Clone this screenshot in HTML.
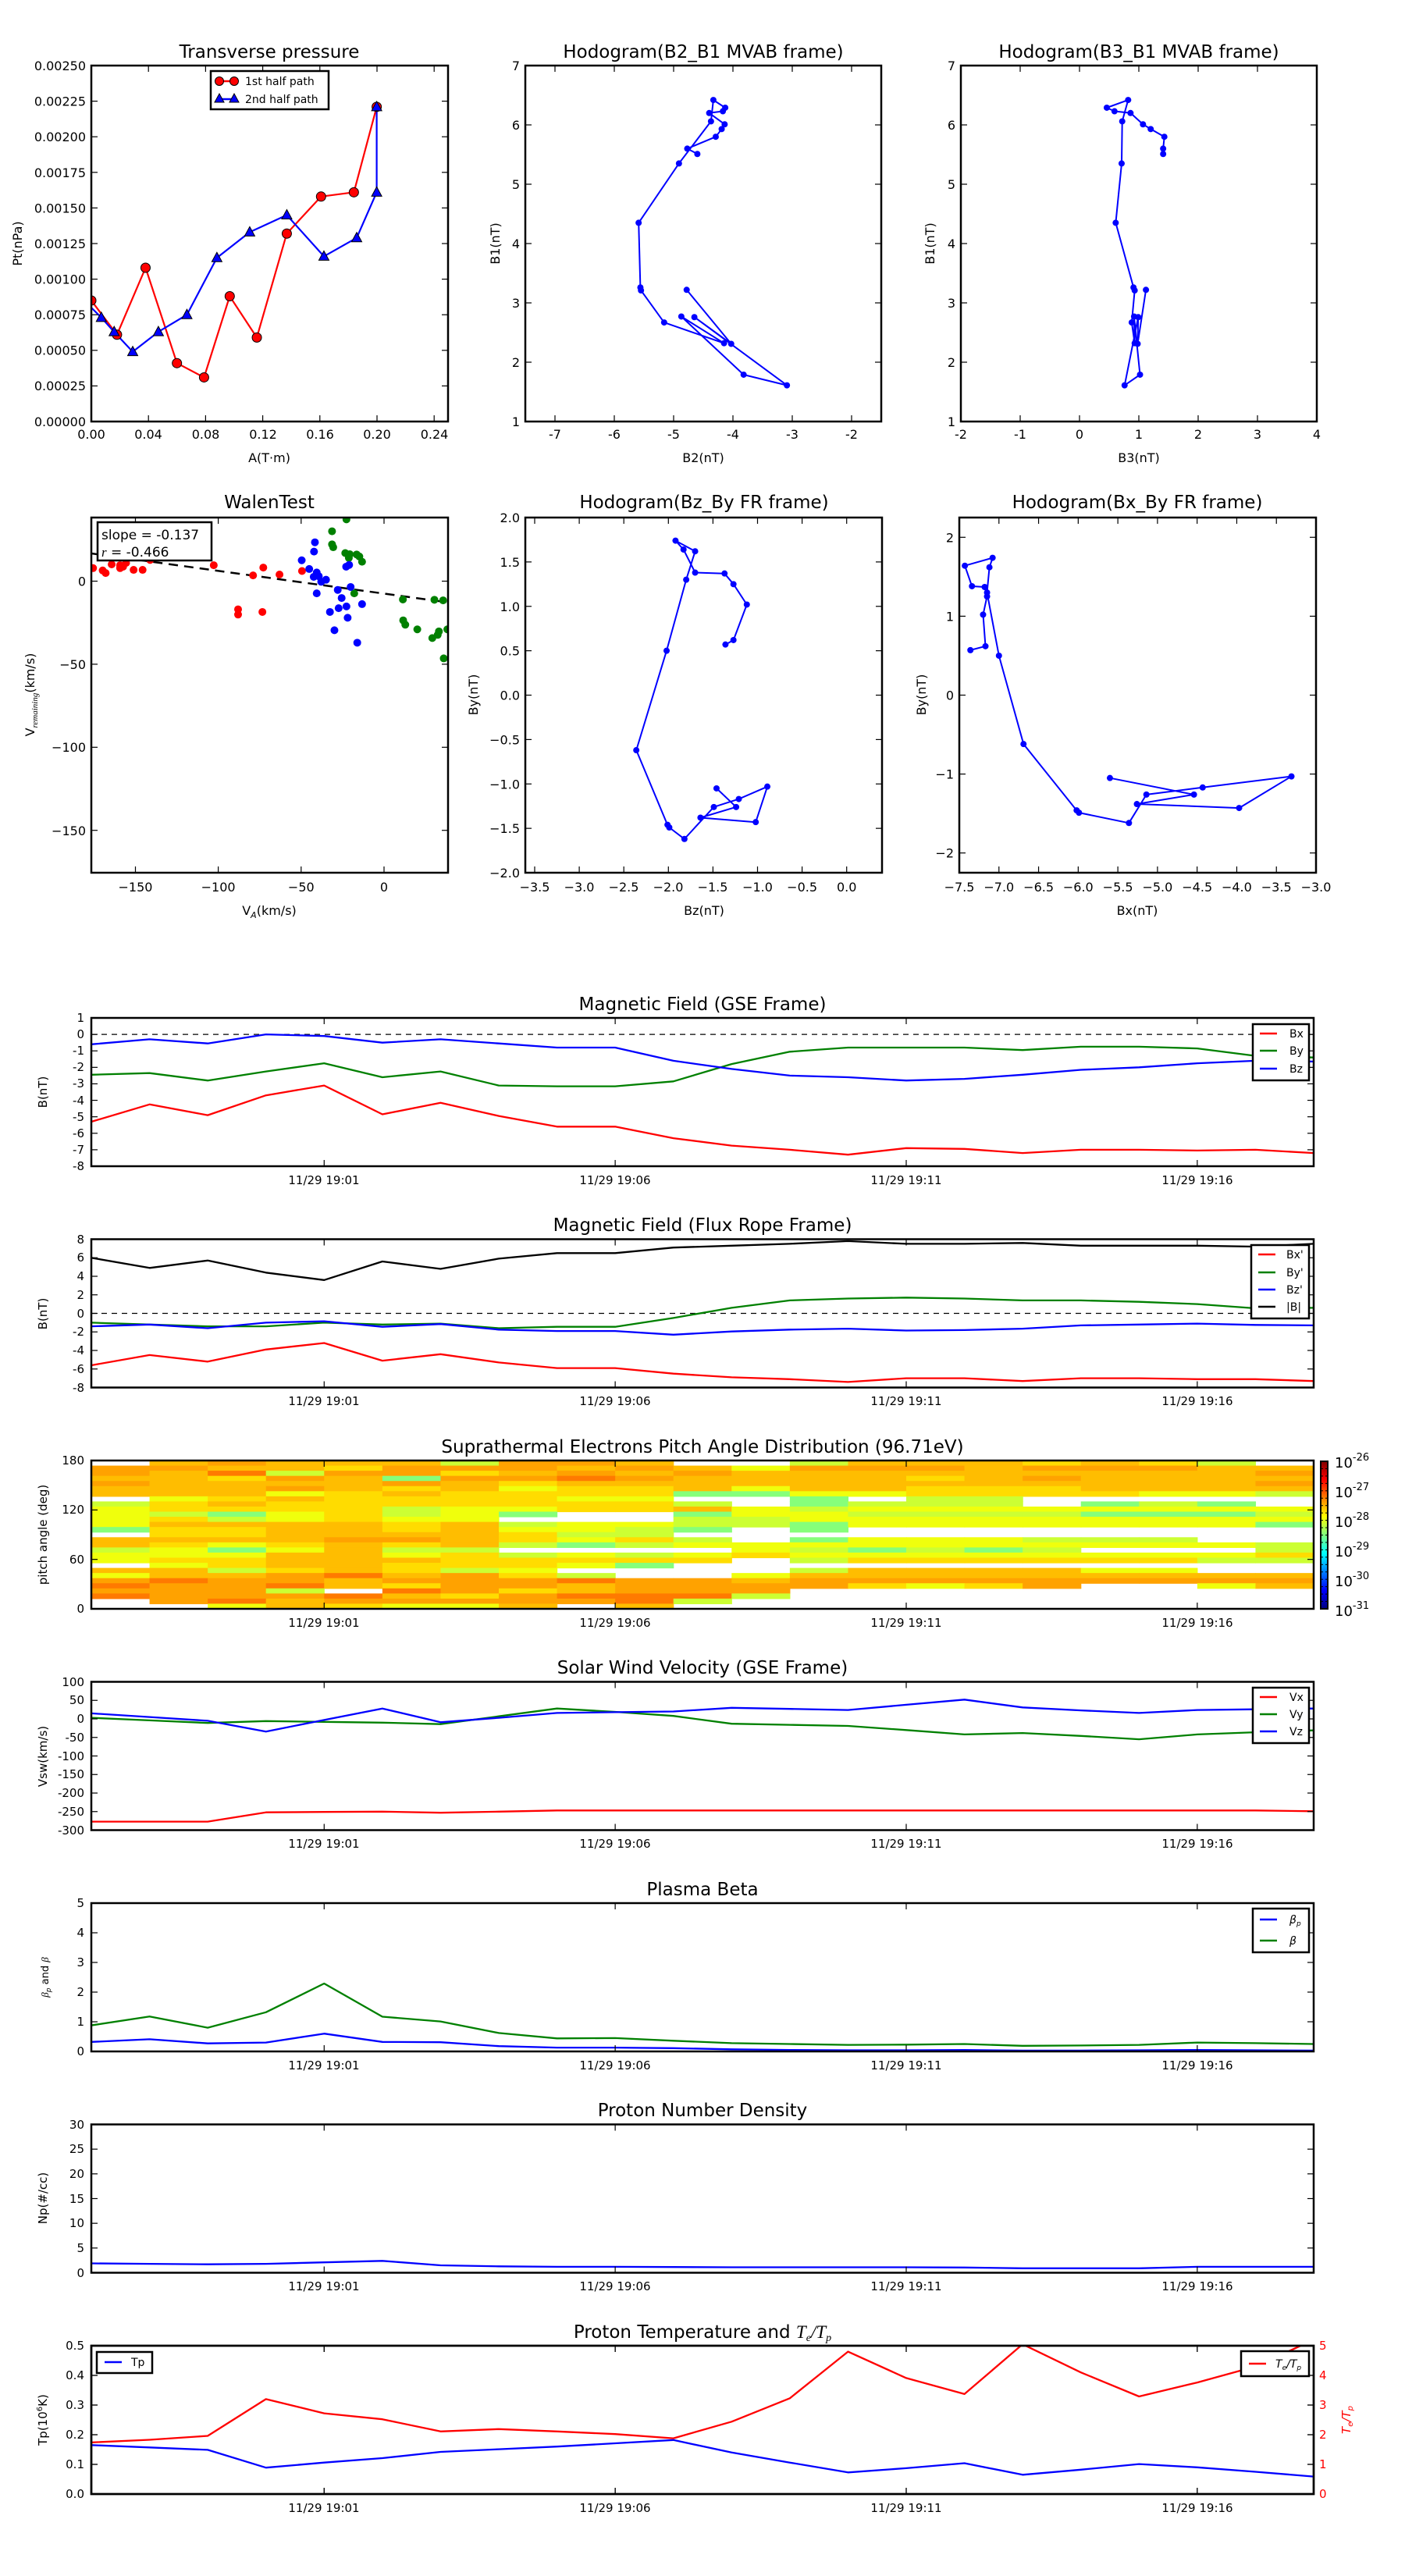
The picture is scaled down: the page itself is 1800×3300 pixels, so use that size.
<!DOCTYPE html>
<html><head><meta charset="utf-8"><style>
html,body{margin:0;padding:0;background:#fff;}
svg{display:block;}
text{font-family:"DejaVu Sans","Liberation Sans",sans-serif;fill:#000;}
.t{font-size:23px;text-anchor:middle;}
.k{font-size:16px;}
.s{font-size:15px;}
.e{text-anchor:end;}
.m{text-anchor:middle;}
.l{font-size:15px;}
</style></head><body>
<svg id="s" xmlns="http://www.w3.org/2000/svg" width="1800" height="3300" viewBox="0 0 1800 3300">
<defs>
<linearGradient id="jet" x1="0" y1="1" x2="0" y2="0">
<stop offset="0" stop-color="#00007f"/><stop offset="0.125" stop-color="#0000ff"/><stop offset="0.375" stop-color="#00ffff"/><stop offset="0.625" stop-color="#ffff00"/><stop offset="0.875" stop-color="#ff0000"/><stop offset="1" stop-color="#7f0000"/>
</linearGradient>
</defs>
<rect width="1800" height="3300" fill="#fff"/>
<g id="g"></g>

<!-- Row 1 titles -->
<text class="t" x="345" y="74">Transverse pressure</text>
<text class="t" x="901" y="74">Hodogram(B2_B1 MVAB frame)</text>
<text class="t" x="1459" y="74">Hodogram(B3_B1 MVAB frame)</text>
<!-- Transverse ticks -->
<g class="k">
<text x="117" y="562" class="m">0.00</text><text x="190" y="562" class="m">0.04</text><text x="263.5" y="562" class="m">0.08</text><text x="337" y="562" class="m">0.12</text><text x="410" y="562" class="m">0.16</text><text x="483" y="562" class="m">0.20</text><text x="556.5" y="562" class="m">0.24</text>
<text x="110" y="546" class="e">0.00000</text><text x="110" y="500" class="e">0.00025</text><text x="110" y="454.5" class="e">0.00050</text><text x="110" y="409" class="e">0.00075</text><text x="110" y="363.5" class="e">0.00100</text><text x="110" y="318" class="e">0.00125</text><text x="110" y="272.5" class="e">0.00150</text><text x="110" y="227" class="e">0.00175</text><text x="110" y="181" class="e">0.00200</text><text x="110" y="135.5" class="e">0.00225</text><text x="110" y="90" class="e">0.00250</text>
<text x="345" y="592" class="m">A(T·m)</text>
<text x="28" y="312" class="m" transform="rotate(-90 28 312)">Pt(nPa)</text>
<!-- B2 -->
<text x="711" y="562" class="m">-7</text><text x="787" y="562" class="m">-6</text><text x="863" y="562" class="m">-5</text><text x="939" y="562" class="m">-4</text><text x="1015" y="562" class="m">-3</text><text x="1091" y="562" class="m">-2</text>
<text x="666" y="546" class="e">1</text><text x="666" y="470" class="e">2</text><text x="666" y="394" class="e">3</text><text x="666" y="318" class="e">4</text><text x="666" y="242" class="e">5</text><text x="666" y="166" class="e">6</text><text x="666" y="90" class="e">7</text>
<text x="901" y="592" class="m">B2(nT)</text>
<text x="640" y="312" class="m" transform="rotate(-90 640 312)">B1(nT)</text>
<!-- B3 -->
<text x="1231" y="562" class="m">-2</text><text x="1307" y="562" class="m">-1</text><text x="1383" y="562" class="m">0</text><text x="1459" y="562" class="m">1</text><text x="1535" y="562" class="m">2</text><text x="1611" y="562" class="m">3</text><text x="1687" y="562" class="m">4</text>
<text x="1224" y="546" class="e">1</text><text x="1224" y="470" class="e">2</text><text x="1224" y="394" class="e">3</text><text x="1224" y="318" class="e">4</text><text x="1224" y="242" class="e">5</text><text x="1224" y="166" class="e">6</text><text x="1224" y="90" class="e">7</text>
<text x="1459" y="592" class="m">B3(nT)</text>
<text x="1197" y="312" class="m" transform="rotate(-90 1197 312)">B1(nT)</text>
</g>

<!-- Row 2 -->
<text class="t" x="345" y="651">WalenTest</text>
<text class="t" x="902" y="651">Hodogram(Bz_By FR frame)</text>
<text class="t" x="1457" y="651">Hodogram(Bx_By FR frame)</text>
<g class="k">
<text x="173.5" y="1142" class="m">−150</text><text x="279.6" y="1142" class="m">−100</text><text x="385.8" y="1142" class="m">−50</text><text x="492" y="1142" class="m">0</text>
<text x="110" y="750.5" class="e">0</text><text x="110" y="857" class="e">−50</text><text x="110" y="963" class="e">−100</text><text x="110" y="1070" class="e">−150</text>
<text x="345" y="1172" class="m">V<tspan font-size="11" font-style="italic" dy="4">A</tspan><tspan dy="-4">(km/s)</tspan></text>
<text x="44" y="890" class="m" transform="rotate(-90 44 890)">V<tspan font-size="11" font-style="italic" font-family="Liberation Serif, serif" dy="4">remaining</tspan><tspan dy="-4">(km/s)</tspan></text>

<text x="685" y="1142" class="m">−3.5</text><text x="742" y="1142" class="m">−3.0</text><text x="799" y="1142" class="m">−2.5</text><text x="856" y="1142" class="m">−2.0</text><text x="913" y="1142" class="m">−1.5</text><text x="970.5" y="1142" class="m">−1.0</text><text x="1027.6" y="1142" class="m">−0.5</text><text x="1084.7" y="1142" class="m">0.0</text>
<text x="666" y="669" class="e">2.0</text><text x="666" y="726" class="e">1.5</text><text x="666" y="783" class="e">1.0</text><text x="666" y="839.6" class="e">0.5</text><text x="666" y="896.5" class="e">0.0</text><text x="666" y="953.4" class="e">−0.5</text><text x="666" y="1010.3" class="e">−1.0</text><text x="666" y="1067" class="e">−1.5</text><text x="666" y="1124" class="e">−2.0</text>
<text x="902" y="1172" class="m">Bz(nT)</text>
<text x="612" y="890" class="m" transform="rotate(-90 612 890)">By(nT)</text>

<text x="1229" y="1142" class="m">−7.5</text><text x="1279.8" y="1142" class="m">−7.0</text><text x="1330.6" y="1142" class="m">−6.5</text><text x="1381.3" y="1142" class="m">−6.0</text><text x="1432.1" y="1142" class="m">−5.5</text><text x="1482.9" y="1142" class="m">−5.0</text><text x="1533.7" y="1142" class="m">−4.5</text><text x="1584.4" y="1142" class="m">−4.0</text><text x="1635.2" y="1142" class="m">−3.5</text><text x="1686" y="1142" class="m">−3.0</text>
<text x="1222" y="694.3" class="e">2</text><text x="1222" y="795.4" class="e">1</text><text x="1222" y="896.5" class="e">0</text><text x="1222" y="997.6" class="e">−1</text><text x="1222" y="1098.7" class="e">−2</text>
<text x="1457" y="1172" class="m">Bx(nT)</text>
<text x="1186" y="890" class="m" transform="rotate(-90 1186 890)">By(nT)</text>
</g>

<!-- Time series titles -->
<text class="t" x="900" y="1294">Magnetic Field (GSE Frame)</text>
<text class="t" x="900" y="1577">Magnetic Field (Flux Rope Frame)</text>
<text class="t" x="900" y="1861">Suprathermal Electrons Pitch Angle Distribution (96.71eV)</text>
<text class="t" x="900" y="2144">Solar Wind Velocity (GSE Frame)</text>
<text class="t" x="900" y="2428">Plasma Beta</text>
<text class="t" x="900" y="2711">Proton Number Density</text>
<text class="t" x="900" y="2995">Proton Temperature and <tspan font-family="Liberation Serif, serif" font-style="italic">T<tspan font-size="14" dy="4">e</tspan><tspan dy="-4">/T</tspan><tspan font-size="14" dy="4">p</tspan></tspan></text>

<g class="s">
<g class="m">
<text x="415" y="1517">11/29 19:01</text><text x="788" y="1517">11/29 19:06</text><text x="1161" y="1517">11/29 19:11</text><text x="1534" y="1517">11/29 19:16</text>
<text x="415" y="1800">11/29 19:01</text><text x="788" y="1800">11/29 19:06</text><text x="1161" y="1800">11/29 19:11</text><text x="1534" y="1800">11/29 19:16</text>
<text x="415" y="2084">11/29 19:01</text><text x="788" y="2084">11/29 19:06</text><text x="1161" y="2084">11/29 19:11</text><text x="1534" y="2084">11/29 19:16</text>
<text x="415" y="2367">11/29 19:01</text><text x="788" y="2367">11/29 19:06</text><text x="1161" y="2367">11/29 19:11</text><text x="1534" y="2367">11/29 19:16</text>
<text x="415" y="2651">11/29 19:01</text><text x="788" y="2651">11/29 19:06</text><text x="1161" y="2651">11/29 19:11</text><text x="1534" y="2651">11/29 19:16</text>
<text x="415" y="2934">11/29 19:01</text><text x="788" y="2934">11/29 19:06</text><text x="1161" y="2934">11/29 19:11</text><text x="1534" y="2934">11/29 19:16</text>
<text x="415" y="3218">11/29 19:01</text><text x="788" y="3218">11/29 19:06</text><text x="1161" y="3218">11/29 19:11</text><text x="1534" y="3218">11/29 19:16</text>
</g>
<g class="e">
<text x="108" y="1309">1</text><text x="108" y="1330">0</text><text x="108" y="1351">-1</text><text x="108" y="1372">-2</text><text x="108" y="1393">-3</text><text x="108" y="1415">-4</text><text x="108" y="1436">-5</text><text x="108" y="1457">-6</text><text x="108" y="1478">-7</text><text x="108" y="1499">-8</text>
<text x="108" y="1593">8</text><text x="108" y="1616">6</text><text x="108" y="1640">4</text><text x="108" y="1664">2</text><text x="108" y="1688">0</text><text x="108" y="1711">-2</text><text x="108" y="1735">-4</text><text x="108" y="1759">-6</text><text x="108" y="1783">-8</text>
<text x="108" y="1876">180</text><text x="108" y="1939">120</text><text x="108" y="2003">60</text><text x="108" y="2066">0</text>
<text x="108" y="2160">100</text><text x="108" y="2183">50</text><text x="108" y="2207">0</text><text x="108" y="2231">-50</text><text x="108" y="2255">-100</text><text x="108" y="2278">-150</text><text x="108" y="2302">-200</text><text x="108" y="2326">-250</text><text x="108" y="2350">-300</text>
<text x="108" y="2443">5</text><text x="108" y="2481">4</text><text x="108" y="2519">3</text><text x="108" y="2557">2</text><text x="108" y="2595">1</text><text x="108" y="2633">0</text>
<text x="108" y="2727">30</text><text x="108" y="2758">25</text><text x="108" y="2790">20</text><text x="108" y="2822">15</text><text x="108" y="2853">10</text><text x="108" y="2885">5</text><text x="108" y="2917">0</text>
<text x="108" y="3010">0.5</text><text x="108" y="3048">0.4</text><text x="108" y="3086">0.3</text><text x="108" y="3124">0.2</text><text x="108" y="3162">0.1</text><text x="108" y="3200">0.0</text>
</g>
<g>
<text x="1690" y="3010" style="fill:#f00">5</text><text x="1690" y="3048" style="fill:#f00">4</text><text x="1690" y="3086" style="fill:#f00">3</text><text x="1690" y="3124" style="fill:#f00">2</text><text x="1690" y="3162" style="fill:#f00">1</text><text x="1690" y="3200" style="fill:#f00">0</text>
</g>
<g class="m">
<text x="60" y="1399" transform="rotate(-90 60 1399)">B(nT)</text>
<text x="60" y="1683" transform="rotate(-90 60 1683)">B(nT)</text>
<text x="60" y="1966" transform="rotate(-90 60 1966)">pitch angle (deg)</text>
<text x="60" y="2250" transform="rotate(-90 60 2250)">Vsw(km/s)</text>
<text x="62" y="2533" font-size="13" transform="rotate(-90 62 2533)"><tspan font-style="italic" font-family="Liberation Serif, serif">β</tspan><tspan font-size="9" dy="3" font-style="italic">p</tspan><tspan dy="-3"> and </tspan><tspan font-style="italic" font-family="Liberation Serif, serif">β</tspan></text>
<text x="60" y="2816" transform="rotate(-90 60 2816)">Np(#/cc)</text>
<text x="60" y="3100" transform="rotate(-90 60 3100)">Tp(10<tspan font-size="10" dy="-6">6</tspan><tspan dy="6">K)</tspan></text>
<text x="1730" y="3100" transform="rotate(-90 1730 3100)" style="fill:#f00" font-family="Liberation Serif, serif" font-style="italic">T<tspan font-size="10" dy="3">e</tspan><tspan dy="-3">/T</tspan><tspan font-size="10" dy="3">p</tspan></text>
</g>
</g>

<g font-size="18">
<text x="1710" y="1880">10<tspan font-size="13" dy="-9">-26</tspan></text>
<text x="1710" y="1918">10<tspan font-size="13" dy="-9">-27</tspan></text>
<text x="1710" y="1956">10<tspan font-size="13" dy="-9">-28</tspan></text>
<text x="1710" y="1994">10<tspan font-size="13" dy="-9">-29</tspan></text>
<text x="1710" y="2032">10<tspan font-size="13" dy="-9">-30</tspan></text>
<text x="1710" y="2070">10<tspan font-size="13" dy="-9">-31</tspan></text>
</g>

<g stroke="#000" stroke-width="2.5" fill="#fff">
<rect x="270" y="91" width="151" height="49"/>
<rect x="125" y="669" width="146" height="49"/>
<rect x="1605" y="1312" width="72" height="72"/>
<rect x="1603" y="1595" width="74" height="94"/>
<rect x="1605" y="2162" width="72" height="71"/>
<rect x="1605" y="2445" width="72" height="56"/>
<rect x="124" y="3013" width="71" height="27"/>
<rect x="1590" y="3012" width="87" height="32"/>
</g>
<g stroke-width="2.5">
<line x1="278" y1="104" x2="300" y2="104" stroke="#f00"/>
<circle cx="281" cy="104" r="5.5" fill="#f00" stroke="#000" stroke-width="1"/><circle cx="300" cy="104" r="5.5" fill="#f00" stroke="#000" stroke-width="1"/>
<line x1="278" y1="127" x2="300" y2="127" stroke="#00f"/>
<polygon points="281,120 287,131 275,131" fill="#00f" stroke="#000" stroke-width="1"/><polygon points="300,120 306,131 294,131" fill="#00f" stroke="#000" stroke-width="1"/>
<line x1="1614" y1="1324" x2="1636" y2="1324" stroke="#f00"/><line x1="1614" y1="1346" x2="1636" y2="1346" stroke="#008000"/><line x1="1614" y1="1369" x2="1636" y2="1369" stroke="#00f"/>
<line x1="1612" y1="1607" x2="1634" y2="1607" stroke="#f00"/><line x1="1612" y1="1630" x2="1634" y2="1630" stroke="#008000"/><line x1="1612" y1="1652" x2="1634" y2="1652" stroke="#00f"/><line x1="1612" y1="1674" x2="1634" y2="1674" stroke="#000"/>
<line x1="1614" y1="2174" x2="1636" y2="2174" stroke="#f00"/><line x1="1614" y1="2196" x2="1636" y2="2196" stroke="#008000"/><line x1="1614" y1="2218" x2="1636" y2="2218" stroke="#00f"/>
<line x1="1614" y1="2459" x2="1636" y2="2459" stroke="#00f"/><line x1="1614" y1="2486" x2="1636" y2="2486" stroke="#008000"/>
<line x1="134" y1="3026" x2="156" y2="3026" stroke="#00f"/>
<line x1="1600" y1="3028" x2="1622" y2="3028" stroke="#f00"/>
</g>
<g font-size="14">
<text x="314" y="109">1st half path</text>
<text x="314" y="132">2nd half path</text>
<text x="1652" y="1329">Bx</text><text x="1652" y="1351">By</text><text x="1652" y="1374">Bz</text>
<text x="1648" y="1612">Bx'</text><text x="1648" y="1635">By'</text><text x="1648" y="1657">Bz'</text><text x="1648" y="1679">|B|</text>
<text x="1652" y="2179">Vx</text><text x="1652" y="2201">Vy</text><text x="1652" y="2223">Vz</text>
<text x="1652" y="2464" font-family="Liberation Serif, serif" font-style="italic">β<tspan font-size="9" dy="3">p</tspan></text>
<text x="1652" y="2491" font-family="Liberation Serif, serif" font-style="italic">β</text>
<text x="168" y="3031">Tp</text>
<text x="1634" y="3033" font-family="Liberation Serif, serif" font-style="italic">T<tspan font-size="9" dy="3">e</tspan><tspan dy="-3">/T</tspan><tspan font-size="9" dy="3">p</tspan></text>
</g>
<g font-size="17">
<text x="130" y="691">slope = -0.137</text>
<text x="130" y="713"><tspan font-family="Liberation Serif, serif" font-style="italic">r</tspan> = -0.466</text>
</g>
</svg>
<script>
(function(){
var NS='http://www.w3.org/2000/svg';
var G=document.getElementById('g');
var cid=0;
function add(tag,a,p){var e=document.createElementNS(NS,tag);for(var k in a)e.setAttribute(k,a[k]);(p||G).appendChild(e);return e;}
function clip(x0,y0,x1,y1){cid++;var c=add('clipPath',{id:'c'+cid});add('rect',{x:x0,y:y0,width:x1-x0,height:y1-y0},c);return add('g',{'clip-path':'url(#c'+cid+')'});}
function poly(pts,c,w,dash,p){return add('polyline',{points:pts.map(function(q){return q[0].toFixed(1)+','+q[1].toFixed(1)}).join(' '),fill:'none',stroke:c,'stroke-width':w||2,'stroke-dasharray':dash||'none','stroke-linejoin':'round'},p);}
function frame(x0,y0,x1,y1,xt,yt){
  xt.forEach(function(x){add('line',{x1:x,y1:y0,x2:x,y2:y0+8,stroke:'#000','stroke-width':1.2});add('line',{x1:x,y1:y1,x2:x,y2:y1-8,stroke:'#000','stroke-width':1.2});});
  yt.forEach(function(y){add('line',{x1:x0,y1:y,x2:x0+8,y2:y,stroke:'#000','stroke-width':1.2});add('line',{x1:x1,y1:y,x2:x1-8,y2:y,stroke:'#000','stroke-width':1.2});});
  add('rect',{x:x0,y:y0,width:x1-x0,height:y1-y0,fill:'none',stroke:'#000','stroke-width':2.5});
}
function rng(a,b,s){var r=[];for(var v=a;v<=b+1e-9;v+=s)r.push(v);return r;}

var TX=function(v){return 117+v/0.25*457;}, TY=function(v){return 540-v/2.5*456;};
var red=[[0,0.85],[0.018,0.61],[0.038,1.08],[0.06,0.41],[0.079,0.31],[0.097,0.88],[0.116,0.59],[0.137,1.32],[0.161,1.58],[0.184,1.61],[0.2,2.21]];
var blu=[[0.2,2.21],[0.2,1.61],[0.186,1.29],[0.163,1.16],[0.137,1.45],[0.111,1.33],[0.088,1.15],[0.067,0.75],[0.047,0.63],[0.029,0.49],[0.016,0.63],[0.007,0.73],[0,0.8]];
var cp=clip(117,84,574,540);
poly(red.map(function(p){return [TX(p[0]),TY(p[1])]}),'#f00',2.2,null,cp);
poly(blu.map(function(p){return [TX(p[0]),TY(p[1])]}),'#00f',2.2,null,cp);
red.forEach(function(p){add('circle',{cx:TX(p[0]),cy:TY(p[1]),r:6,fill:'#f00',stroke:'#000','stroke-width':1},cp)});
blu.slice(0,12).forEach(function(p){var x=TX(p[0]),y=TY(p[1]);add('polygon',{points:x+','+(y-7)+' '+(x+6.5)+','+(y+5)+' '+(x-6.5)+','+(y+5),fill:'#00f',stroke:'#000','stroke-width':1},cp)});
frame(117,84,574,540,rng(0,6,1).map(function(i){return 117+i*73.2}),rng(0,10,1).map(function(i){return 540-i*45.6}));

var seq=[['I',-4.6,5.51,1.41],['J',-4.77,5.6,1.41],['H',-4.29,5.8,1.43],['G',-4.19,5.93,1.2],['F',-4.14,6.01,1.07],['D',-4.4,6.2,0.86],['C',-4.17,6.23,0.59],['B',-4.13,6.29,0.46],['A',-4.33,6.42,0.82],['E',-4.37,6.06,0.72],['K',-4.91,5.35,0.71],['L',-5.59,4.35,0.61],['M',-5.56,3.26,0.91],['M2',-5.55,3.21,0.93],['N',-5.16,2.67,0.88],['O',-4.15,2.32,0.93],['Q',-4.87,2.77,0.92],['T',-3.82,1.79,1.02],['U',-3.09,1.61,0.76],['R',-4.65,2.76,0.99],['P',-4.03,2.31,0.98],['S',-4.78,3.22,1.12]];
var HY=function(v){return 540-(v-1)*76;};
var p2=seq.map(function(s){return [673+(s[1]+7.5)*76,HY(s[2])]});
var p3=seq.map(function(s){return [1231+(s[3]+2)*76,HY(s[2])]});
[p2,p3].forEach(function(pp){poly(pp,'#00f',2);pp.forEach(function(q){add('circle',{cx:q[0],cy:q[1],r:4,fill:'#00f'})});});
frame(673,84,1129,540,rng(0,5,1).map(function(i){return 711+i*76}),rng(0,6,1).map(function(i){return 540-i*76}));
frame(1231,84,1687,540,rng(0,6,1).map(function(i){return 1231+i*76}),rng(0,6,1).map(function(i){return 540-i*76}));

var WY=function(v){return 744.5-v*2.128;};
var cw=clip(117,663,574,1118);
poly([[117,WY(-0.137*-176.6-7.5)],[574,WY(-0.137*38.6-7.5)]],'#000',2.5,'12,8',cw);
function dots(arr,c){arr.forEach(function(z){add('circle',{cx:z[0]/2.6,cy:620+z[1]/2.69,r:5,fill:c},cw)});}
dots([[310,290],[342,298],[352,307],[372,277],[400,290],[410,285],[420,272],[445,296],[475,296],[500,262],[400,280],[712,280],[843,315],[877,288],[931,312],[1006,300],[793,432],[793,450],[874,441]],'#f00');
dots([[1154,122],[1106,163],[1106,208],[1110,218],[1150,238],[1165,242],[1188,243],[1197,250],[1206,268],[1162,255],[1180,377],[1342,398],[1447,399],[1476,401],[1343,470],[1350,485],[1390,501],[1440,531],[1458,520],[1462,508],[1490,501],[1478,601]],'#008000');
dots([[1005,263],[1030,293],[1049,201],[1046,233],[1055,305],[1045,320],[1062,318],[1070,337],[1086,330],[1125,365],[1138,393],[1055,377],[1099,441],[1128,428],[1154,422],[1158,461],[1114,504],[1190,547],[1168,355],[1206,414],[1153,285],[1163,279]],'#00f');
frame(117,663,574,1118,[173.5,279.6,385.8,492],[744.5,850.9,957.3,1063.7]);

var fr=[[-5.6,-1.05,-1.46],[-4.54,-1.26,-1.24],[-5.26,-1.38,-1.64],[-3.97,-1.43,-1.02],[-3.31,-1.03,-0.89],[-4.43,-1.17,-1.21],[-5.14,-1.26,-1.49],[-5.36,-1.62,-1.82],[-5.99,-1.49,-1.99],[-6.02,-1.46,-2.01],[-6.69,-0.62,-2.36],[-7.0,0.5,-2.02],[-7.15,1.3,-1.80],[-7.12,1.62,-1.70],[-7.08,1.74,-1.92],[-7.43,1.64,-1.83],[-7.34,1.38,-1.70],[-7.18,1.37,-1.37],[-7.15,1.25,-1.27],[-7.2,1.02,-1.12],[-7.17,0.62,-1.27],[-7.36,0.57,-1.36]];
var pz=fr.map(function(f){return [673+(f[2]+3.605)*114.2,890.5-f[1]*113.75]});
var px=fr.map(function(f){return [1229+(f[0]+7.5)*101.56,890.5-f[1]*101.1]});
[pz,px].forEach(function(pp){poly(pp,'#00f',2);pp.forEach(function(q){add('circle',{cx:q[0],cy:q[1],r:4,fill:'#00f'})});});
frame(673,663,1130,1118,rng(0,7,1).map(function(i){return 685+i*57.1}),rng(0,8,1).map(function(i){return 663+i*56.88}));
frame(1229,663,1686,1118,rng(0,9,1).map(function(i){return 1229+i*50.78}),[688.3,789.4,890.5,991.6,1092.7]);

var L=117,R=1683,H=190;
function X(k){return L+k*(R-L)/21;}
var tks=[4,9,14,19].map(X);
function ts(top,lo,hi,series,yt,dash0){
  var Y=function(v){return top+(hi-v)/(hi-lo)*H;};
  var c=clip(L,top,R,top+H);
  if(dash0!==undefined) poly([[L,Y(dash0)],[R,Y(dash0)]],'#000',1.3,'7,6',c);
  series.forEach(function(s){poly(s[1].map(function(v,k){return [X(k),Y(v)]}),s[0],2.3,null,c);});
  frame(L,top,R,top+H,tks,yt.map(Y));
  return Y;
}
ts(1304,-8,1,[
 ['#f00',[-5.3,-4.25,-4.9,-3.7,-3.1,-4.85,-4.15,-4.95,-5.6,-5.6,-6.3,-6.75,-7.0,-7.3,-6.9,-6.95,-7.2,-7.0,-7.0,-7.05,-7.0,-7.2]],
 ['#008000',[-2.45,-2.35,-2.8,-2.25,-1.75,-2.6,-2.25,-3.1,-3.15,-3.15,-2.85,-1.8,-1.05,-0.8,-0.8,-0.8,-0.95,-0.75,-0.75,-0.85,-1.3,-1.4]],
 ['#00f',[-0.6,-0.3,-0.55,0.0,-0.1,-0.5,-0.3,-0.55,-0.8,-0.8,-1.6,-2.1,-2.5,-2.6,-2.8,-2.7,-2.45,-2.15,-2.0,-1.75,-1.6,-1.65]]
],rng(-8,1,1),0);
ts(1587.5,-8,8,[
 ['#f00',[-5.6,-4.5,-5.2,-3.9,-3.2,-5.1,-4.4,-5.3,-5.9,-5.9,-6.5,-6.9,-7.1,-7.4,-7.0,-7.0,-7.3,-7.0,-7.0,-7.1,-7.1,-7.3]],
 ['#008000',[-1.0,-1.2,-1.4,-1.4,-1.0,-1.2,-1.1,-1.6,-1.45,-1.45,-0.5,0.6,1.4,1.6,1.7,1.6,1.4,1.4,1.25,1.0,0.55,0.6]],
 ['#00f',[-1.4,-1.2,-1.6,-1.0,-0.85,-1.45,-1.15,-1.75,-1.9,-1.9,-2.3,-1.95,-1.75,-1.65,-1.85,-1.8,-1.65,-1.3,-1.2,-1.1,-1.25,-1.3]],
 ['#000',[6,4.9,5.7,4.4,3.6,5.6,4.8,5.9,6.5,6.5,7.1,7.3,7.5,7.8,7.5,7.5,7.6,7.3,7.3,7.3,7.2,7.5]]
],rng(-8,8,2),0);

var rows=["WoOoooLOOoWWLoooyoyLW","OOooyOOOoOoYOOOoOOOoo","OoRLOOyoOoOoooooooooO","ooyOogOOROooooyoOoooo","OooooOoyooooooooooooO","oooOoyoYyyoYooyyyoooo","oooYyoyyyyggYYyyyyYYL","WYyoyyyyYYWWgWLLWWWWW","LyoyyyyyyyLWgLLLWgLgW","YyyyyLYYyyoYLYYYYYYYY","YLgYyLYgWWgYYLLLLgggL","YyLYyYYWWWLLYYYYYYYYY","YooooyoLYYLLgYYYYYYYg","gyyooyoYYLgWgWWWWWWWW","WyyooooyLLWWWWWWWWWWW","ooooOOoyYyLWgYYYLLLWW","oyYyoyoLgLYYYYYYYYYYL","LYgYoLLWWWWYLgLgLWWWL","YYYooYyLYLYyYYYYYYYYy","YyyoooyyyyyWLyyyyyyLL","WYyooyyyYgWWWWWWWWWWW","ooLyoyLYWWWWLooooYYWW","YooORoOyLWWYooooooooo","OROOoOOOROOoOOOOOOOOO","ROORoyOOoOOOOyYyOWWYo","OOOLWROyoOOOWWWWWWWWW","ROOORoyORRRLWWWWWWWWW","WORoOOOOORLWWWWWWWWWW","WWYoyYYoWoWWWWWWWWWWW"];
var col={R:'#ff7a00',O:'#ffa200',o:'#ffbd00',y:'#ffdc00',Y:'#f0ff0c',L:'#ccff33',g:'#86ff7a'};
var PT=1871,rh=H/rows.length;
rows.forEach(function(r,i){for(var j=0;j<21;j++){var ch=r[j];if(col[ch])add('rect',{x:X(j).toFixed(2),y:(PT+i*rh).toFixed(2),width:(X(j+1)-X(j)+0.6).toFixed(2),height:(rh+0.6).toFixed(2),fill:col[ch]});}});
frame(L,PT,R,PT+H,tks,[PT,PT+H/3,PT+2*H/3,PT+H]);
add('rect',{x:1692,y:1872,width:9,height:189,fill:'url(#jet)',stroke:'#000','stroke-width':2});
for(var i=1;i<20;i++){var yy=1872+i*189/20;add('line',{x1:1692,y1:yy,x2:1695,y2:yy,stroke:'#000','stroke-width':1});add('line',{x1:1698,y1:yy,x2:1701,y2:yy,stroke:'#000','stroke-width':1});}

ts(2154.5,-300,100,[
 ['#f00',[-277,-277,-277,-252,-251,-250,-253,-250,-247,-247,-247,-247,-247,-247,-247,-247,-247,-247,-247,-247,-247,-249]],
 ['#008000',[3,-4,-11,-6,-8,-10,-14,7,28,19,8,-13,-16,-19,-30,-42,-38,-46,-55,-42,-36,-31]],
 ['#00f',[15,5,-5,-34,-3,28,-9,3,16,18,20,30,27,24,38,52,31,23,16,24,26,28]]
],rng(-300,100,50));
ts(2438,0,5,[
 ['#00f',[0.32,0.41,0.27,0.3,0.6,0.32,0.31,0.18,0.13,0.13,0.11,0.07,0.05,0.04,0.04,0.05,0.03,0.03,0.04,0.05,0.04,0.03]],
 ['#008000',[0.88,1.18,0.8,1.32,2.29,1.17,1.01,0.62,0.44,0.45,0.36,0.28,0.25,0.22,0.23,0.25,0.19,0.2,0.22,0.3,0.28,0.25]]
],rng(0,5,1));
ts(2721.5,0,30,[
 ['#00f',[1.9,1.8,1.7,1.8,2.1,2.4,1.5,1.3,1.2,1.2,1.15,1.1,1.1,1.1,1.1,1.05,0.9,0.9,0.9,1.2,1.2,1.2]]
],rng(0,30,5));
ts(3005,0,5,[
 ['#f00',[1.74,1.83,1.96,3.2,2.72,2.52,2.11,2.19,2.11,2.02,1.88,2.44,3.23,4.8,3.91,3.37,5.05,4.1,3.29,3.76,4.3,5.2]]
],rng(0,5,1));
ts(3005,0,0.5,[
 ['#00f',[0.165,0.157,0.149,0.089,0.106,0.121,0.142,0.151,0.16,0.171,0.182,0.14,0.106,0.073,0.087,0.104,0.065,0.082,0.101,0.09,0.075,0.059]]
],rng(0,0.5,0.1));
})();
</script>
</body></html>
